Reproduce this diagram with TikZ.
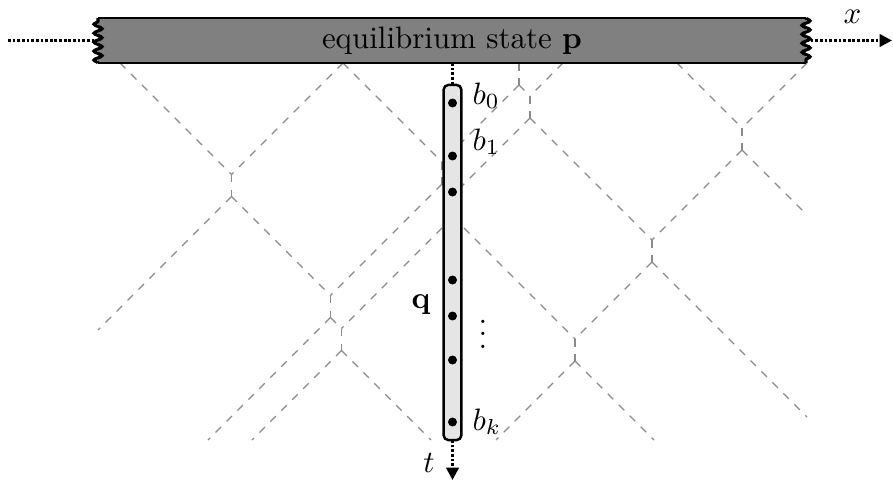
\documentclass[tikz,border=0pt]{standalone}
\usepackage{xcolor}
\usepackage{tikz}
\usetikzlibrary{arrows.meta,decorations.pathmorphing}
\definecolor{ink}{HTML}{000000}
\definecolor{wavegrey}{HTML}{8A8A8A}
\newcommand{\meet}[3]{\coordinate (#1-u) at (#2,#3); \coordinate (#1-d) at (#2,#3+22);}
\tikzset{
  barbox/.style={rectangle, fill=gray, inner sep=0pt, outer sep=0pt,
                 minimum width=228.7pt, minimum height=14.5pt},
  colbox/.style={rectangle, rounded corners=1.5pt, draw=ink, fill=gray!20, thick,
                 inner sep=0pt, outer sep=0pt, minimum width=5.7pt, minimum height=114.7pt},
  site/.style={circle, fill=ink, inner sep=0pt, minimum size=2.9pt},
  lbl/.style={inner sep=0pt, anchor=base},
  wave/.style={draw=wavegrey, line width=0.4pt, dash pattern=on 2.5pt off 2.5pt},
  zig/.style={decoration={snake, amplitude=1.3pt, segment length=2.9pt}},
  axis/.style={draw=ink, line width=0.9pt, dash pattern=on 0.9pt off 0.6pt},
  axisarrow/.style={axis, -{Triangle[length=4pt, width=4pt]}},
}
\begin{document}
\begin{tikzpicture}[x=0.323pt, y=-0.323pt]
\useasboundingbox (0,0) rectangle (893,480);
% where two waves meet
\meet{S}{519}{63}
\meet{A}{231.5}{174.5}
\meet{B}{442}{162}
\meet{C}{530}{96}
\meet{D}{742}{128}
\meet{E}{330.5}{295.5}
\meet{F}{453}{195}
\meet{G}{652}{240}
\meet{H}{341.5}{328.5}
\meet{I}{575}{339}
% waves
\draw[wave] (120,63) -- (A-u) (A-d) -- (E-u) (E-d) -- (H-u) (H-d) -- (431,440);
\draw[wave] (343,63) -- (A-u) (A-d) -- (98,330);
\draw[wave] (343,63) -- (B-u) (B-d) -- (F-u) (F-d) -- (I-u) (I-d) -- (654,440);
\draw[wave] (S-d) -- (B-u) (B-d) -- (E-u) (E-d) -- (208,440);
\draw[wave] (S-d) -- (C-u) (C-d) -- (G-u) (G-d) -- (807,417);
\draw[wave] (563,63) -- (C-u) (C-d) -- (F-u) (F-d) -- (H-u) (H-d) -- (252,440);
\draw[wave] (677,63) -- (D-u) (D-d) -- (807,215);
\draw[wave] (807,63) -- (D-u) (D-d) -- (G-u) (G-d) -- (I-u) (I-d) -- (496,440);
\foreach \m in {S,A,B,C,D,E,F,G,H,I}
  \draw[wave] (\m-u) -- (\m-d);

% the chain q
\node[colbox] (col) at (452.5,262.5) {};
\foreach \y/\n in {103/b0,156/b1,192/b2,280/b3,316/b4,360/b5,422/bk}
  \node[site] (\n) at (452.5,\y) {};
\node[lbl, anchor=base west] (lb0) at (472,104) {$b_0$};
\node[lbl, anchor=base west] (lb1) at (472,150) {$b_1$};
\node[lbl, anchor=base west] (lbk) at (472,430) {$b_k$};
\node[lbl] (vd) at (483,348) {$\vdots$};
\node[lbl] (lq) at (421,308) {$\mathbf{q}$};

% the state p
\node[barbox] (bar) at (452,40.5) {equilibrium state $\mathbf{p}$};
\draw[thick] (bar.north west) -- (bar.north east);
\draw[thick] (bar.south west) -- (bar.south east);
\draw[line width=1pt] (bar.north east) decorate[zig]{-- (bar.south east)};
\draw[line width=1pt] (bar.south west) decorate[zig]{-- (bar.north west)};

\coordinate (xin) at (8,40.5);
\coordinate (xout) at (892,40.5);
\coordinate (tout) at (452.5,480);
\draw[axis] (xin) -- (bar.west);
\draw[axisarrow] (bar.east) -- (xout);
\draw[axis] (bar.south -| col.north) -- (col.north);
\draw[axisarrow] (col.south) -- (tout);
\node[lbl] (lx) at (852.5,24) {$x$};
\node[lbl] (lt) at (429,472) {$t$};
\end{tikzpicture}
\end{document}
